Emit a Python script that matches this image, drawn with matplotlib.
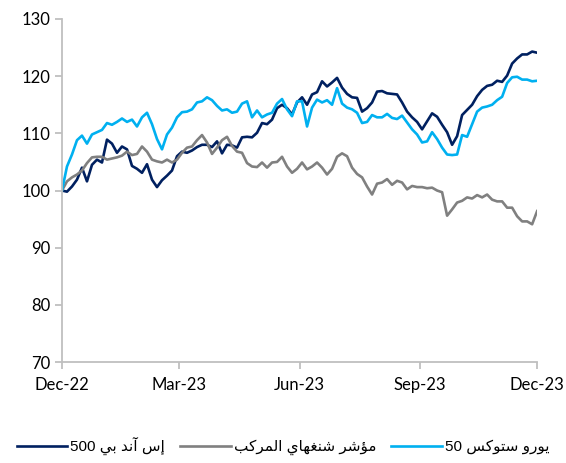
import numpy as np
import pandas as pd
import matplotlib
matplotlib.use("Agg")
import matplotlib.pyplot as plt
import matplotlib.dates as mdates

# index levels, rebased to 100 at end of Dec-22 (~every 4 days)
sp500 = [100, 99.8, 100.7, 101.9, 104, 101.6, 104.5, 105.4, 104.9, 108.9,
         108.2, 106.6, 107.7, 107.2, 104.3, 103.8, 103.1, 104.6, 101.9, 100.6,
         101.8, 102.6, 103.5, 106, 106.8, 106.6, 107, 107.6, 108, 108,
         107.6, 108.6, 106.5, 108, 107.9, 107.5, 109.3, 109.4, 109.3, 110.1,
         111.8, 111.6, 112.4, 114.4, 115, 114.4, 113.3, 115.4, 116.3, 115,
         116.8, 117.2, 119.1, 118.2, 118.9, 119.7, 118, 116.9, 116.3, 116.2,
         113.8, 114.4, 115.4, 117.3, 117.4, 117, 116.9, 116.8, 115.4, 113.8,
         112.8, 112, 110.7, 112.1, 113.5, 112.9, 111.5, 110.2, 108, 109.5,
         113.2, 114.1, 115, 116.5, 117.6, 118.3, 118.5, 119.2, 119, 120.1,
         122.2, 123.1, 123.8, 123.8, 124.3, 124.1]

shanghai = [100, 101.6, 102.3, 102.8, 103.5, 104.8, 105.8, 105.9, 105.9, 105.4,
            105.6, 105.8, 106.1, 106.8, 106.2, 106.4, 107.7, 106.8, 105.4, 105.1,
            104.9, 105.4, 104.9, 105.4, 106.6, 107.5, 107.7, 108.8, 109.7, 108.4,
            106.4, 107.5, 108.8, 109.4, 107.8, 106.8, 106.6, 104.8, 104.2, 104.1,
            104.9, 104, 104.9, 105, 105.9, 104.2, 103.1, 103.8, 104.9, 103.7,
            104.2, 104.9, 104, 102.8, 103.8, 105.9, 106.5, 106, 104, 102.9,
            102.3, 100.7, 99.3, 101.2, 101.4, 102, 101, 101.7, 101.4, 100.2,
            100.8, 100.6, 100.6, 100.4, 100.5, 100, 99.7, 95.6, 96.7, 97.9,
            98.2, 98.8, 98.6, 99.2, 98.8, 99.3, 98.4, 98.1, 98.1, 97,
            97, 95.5, 94.6, 94.6, 94.1, 96.4]

eurostoxx = [100, 104.2, 106.3, 108.8, 109.6, 108.2, 109.8, 110.2, 110.6, 111.8,
             111.5, 112, 112.6, 112, 112.4, 111.2, 112.8, 113.6, 111.6, 109,
             107.2, 109.8, 111, 112.8, 113.7, 113.8, 114.2, 115.4, 115.6, 116.3,
             115.8, 114.8, 114, 114.2, 113.6, 113.8, 115.2, 115.6, 112.8, 114,
             112.8, 113.3, 113.6, 115.2, 116, 114.2, 113, 115.6, 115.6, 111.2,
             114.5, 115.9, 115.4, 115.8, 115, 117.9, 115.2, 114.5, 114.2, 113.6,
             111.8, 112, 113.2, 112.8, 112.8, 113.4, 112.7, 112.5, 113.1, 111.9,
             110.7, 109.8, 108.4, 108.6, 110.2, 109, 107.5, 106.3, 106.2, 106.3,
             109.7, 109.4, 111.6, 113.8, 114.5, 114.7, 115, 115.8, 116.4, 118.8,
             119.8, 119.9, 119.4, 119.4, 119.1, 119.2]

labels = ["إس آند بي 500", "مؤشر شنغهاي المركب", "يورو ستوكس 50"]
colors = ["#002060", "#00B0F0", "#808080"]
tick_dates = ["2022-12-30", "2023-03-30", "2023-06-30", "2023-09-30", "2023-12-29"]

dates = pd.date_range("2022-12-30", "2023-12-29", periods=len(sp500))

# matplotlib has no arabic shaping, so map letters to presentation forms by hand
FORMS = {
    "\u0627": ("\uFE8D", "\uFE8E"), "\u0622": ("\uFE81", "\uFE82"),
    "\u0625": ("\uFE87", "\uFE88"), "\u0624": ("\uFE85", "\uFE86"),
    "\u062F": ("\uFEA9", "\uFEAA"), "\u0631": ("\uFEAD", "\uFEAE"),
    "\u0648": ("\uFEED", "\uFEEE"),
    "\u0628": ("\uFE8F", "\uFE90", "\uFE91", "\uFE92"),
    "\u062A": ("\uFE95", "\uFE96", "\uFE97", "\uFE98"),
    "\u0633": ("\uFEB1", "\uFEB2", "\uFEB3", "\uFEB4"),
    "\u0634": ("\uFEB5", "\uFEB6", "\uFEB7", "\uFEB8"),
    "\u063A": ("\uFECD", "\uFECE", "\uFECF", "\uFED0"),
    "\u0643": ("\uFED9", "\uFEDA", "\uFEDB", "\uFEDC"),
    "\u0644": ("\uFEDD", "\uFEDE", "\uFEDF", "\uFEE0"),
    "\u0645": ("\uFEE1", "\uFEE2", "\uFEE3", "\uFEE4"),
    "\u0646": ("\uFEE5", "\uFEE6", "\uFEE7", "\uFEE8"),
    "\u0647": ("\uFEE9", "\uFEEA", "\uFEEB", "\uFEEC"),
    "\u064A": ("\uFEF1", "\uFEF2", "\uFEF3", "\uFEF4"),
}


def shape_arabic(s):
    out = []
    for i, ch in enumerate(s):
        if ch not in FORMS:
            out.append(ch)
            continue
        f = FORMS[ch]
        prev = s[i - 1] if i > 0 else ""
        nxt = s[i + 1] if i + 1 < len(s) else ""
        join_prev = prev in FORMS and len(FORMS[prev]) == 4
        join_next = len(f) == 4 and nxt in FORMS
        if join_prev and join_next:
            out.append(f[3])
        elif join_prev:
            out.append(f[1])
        elif join_next:
            out.append(f[2])
        else:
            out.append(f[0])
    vis = "".join(out)[::-1]
    # put digit runs back in left-to-right order
    res, run = "", ""
    for ch in vis:
        if ch.isdigit():
            run += ch
        else:
            res += run[::-1] + ch
            run = ""
    return res + run[::-1]


plt.rcParams["font.family"] = ["Lato", "DejaVu Sans"]

fig = plt.figure(figsize=(5.66, 4.63), dpi=100)
ax = fig.add_axes([0.1095, 0.218, 0.8395, 0.741])

ax.plot(dates, sp500, color=colors[0], lw=1.9, label=shape_arabic(labels[0]))
ax.plot(dates, shanghai, color=colors[2], lw=1.9, label=shape_arabic(labels[1]))
ax.plot(dates, eurostoxx, color=colors[1], lw=1.9, label=shape_arabic(labels[2]))

ax.set_ylim(70, 130)
ax.set_yticks(range(70, 131, 10))
ax.set_xlim(dates[0], dates[-1])
ax.set_xticks(pd.to_datetime(tick_dates))
ax.xaxis.set_major_formatter(mdates.DateFormatter("%b-%y"))

for side in ["top", "right"]:
    ax.spines[side].set_visible(False)
for side in ["left", "bottom"]:
    ax.spines[side].set_color("#bfbfbf")
    ax.spines[side].set_linewidth(1.3)
ax.tick_params(axis="both", colors="#bfbfbf", width=1.3, length=5,
               labelcolor="black", labelsize=12)
ax.tick_params(axis="x", pad=6)

leg = fig.legend(loc="center", bbox_to_anchor=(0.5, 1 - 446 / 463), ncol=3,
                 frameon=False, handlelength=3.3, handletextpad=0.2,
                 columnspacing=1.0,
                 prop={"family": ["Liberation Sans", "DejaVu Sans"], "size": 11})
handles = leg.legend_handles
for h, c in zip(handles, [colors[0], colors[2], colors[1]]):
    h.set_color(c)

fig.savefig("out.png", dpi=100)
